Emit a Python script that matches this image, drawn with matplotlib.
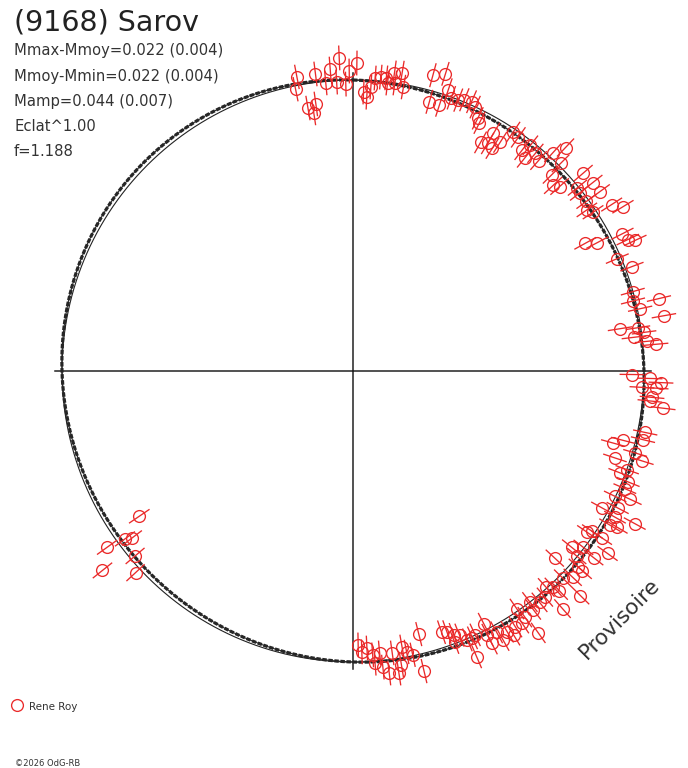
import numpy as np
import matplotlib
matplotlib.use('Agg')
import matplotlib.pyplot as plt
from matplotlib.lines import Line2D

plt.rcParams['font.family'] = ['DejaVu Sans']

# ── Labels ───────────────────────────────────────────────────────────────────
TITLE = '(9168) Sarov'
STATS = [
    'Mmax-Mmoy=0.022 (0.004)',
    'Mmoy-Mmin=0.022 (0.004)',
    'Mamp=0.044 (0.007)',
    'Eclat^1.00',
    'f=1.188',
]
OBSERVER = 'Rene Roy'
STAMP = 'Provisoire'
COPYRIGHT = '\u00a92026 OdG-RB'

# ── Data: rotational phase (0 at top, clockwise) and magnitude offset ────────
PHASE = [
    0.970, 0.968, 0.980, 0.973, 0.978, 0.976, 0.985, 0.988, 0.993, 0.991,
    0.996, 0.998, 0.002, 0.006, 0.008, 0.010, 0.012, 0.015, 0.018, 0.019,
    0.022, 0.026, 0.023, 0.028, 0.042, 0.048, 0.052, 0.044, 0.050, 0.055,
    0.059, 0.062, 0.066, 0.069, 0.073, 0.075, 0.085, 0.091, 0.081, 0.089,
    0.085, 0.094, 0.098, 0.106, 0.104, 0.108, 0.111, 0.115, 0.118, 0.121,
    0.125, 0.126, 0.131, 0.134, 0.137, 0.144, 0.141, 0.144, 0.150, 0.150,
    0.154, 0.157, 0.159, 0.163, 0.170, 0.173, 0.175, 0.179, 0.181, 0.186,
    0.193, 0.206, 0.211, 0.216, 0.213, 0.222, 0.225, 0.226, 0.231, 0.229,
    0.234, 0.236, 0.252, 0.254, 0.256, 0.259, 0.259, 0.264, 0.269, 0.266,
    0.283, 0.293, 0.290, 0.287, 0.295, 0.301, 0.298, 0.308, 0.305, 0.311,
    0.315, 0.321, 0.319, 0.326, 0.330, 0.331, 0.336, 0.329, 0.335, 0.346,
    0.344, 0.344, 0.358, 0.354, 0.349, 0.355, 0.360, 0.369, 0.364, 0.364,
    0.370, 0.374, 0.381, 0.380, 0.384, 0.374, 0.388, 0.392, 0.396, 0.404,
    0.397, 0.385, 0.403, 0.406, 0.402, 0.410, 0.415, 0.413, 0.420, 0.419,
    0.425, 0.425, 0.424, 0.431, 0.433, 0.436, 0.439, 0.442, 0.445, 0.448,
    0.435, 0.443, 0.461, 0.463, 0.467, 0.472, 0.470, 0.478, 0.485, 0.489,
    0.492, 0.497, 0.495, 0.488, 0.484, 0.481, 0.476, 0.474,
    0.655, 0.647, 0.649, 0.651, 0.638, 0.643, 0.631,
]
DMAG = [
    0.042, -0.017, 0.042, -0.121, -0.107, -0.150, -0.008, 0.059, 0.112, -0.008,
    -0.020, 0.045, 0.085, -0.059, -0.084, -0.032, 0.014, 0.021, 0.020, -0.005,
    0.050, 0.055, 0.000, -0.013, 0.077, 0.101, 0.028, -0.056, -0.056, -0.003,
    -0.002, 0.011, 0.016, -0.001, -0.046, -0.062, -0.075, -0.095, -0.146, -0.141,
    -0.133, -0.017, -0.024, -0.020, -0.064, -0.086, -0.035, -0.052, 0.024, 0.087,
    0.013, -0.059, -0.090, -0.070, 0.063, 0.069, -0.006, -0.013, 0.070, -0.012,
    -0.035, -0.016, 0.083, 0.125, -0.130, -0.075, 0.057, 0.068, 0.100, -0.019,
    0.034, -0.001, -0.012, 0.014, 0.117, 0.124, -0.103, -0.014, -0.040, 0.013,
    0.023, 0.066, -0.060, 0.031, 0.086, -0.008, 0.063, 0.046, 0.107, 0.037,
    0.038, -0.106, -0.061, 0.035, 0.014, -0.075, 0.057, -0.026, 0.002, 0.028,
    0.026, -0.002, 0.073, 0.035, -0.034, 0.045, 0.043, 0.147, 0.078, -0.032,
    -0.014, 0.042, -0.050, -0.004, 0.111, 0.067, -0.003, -0.079, 0.037, 0.066,
    0.052, 0.020, 0.017, 0.052, -0.004, 0.143, 0.028, 0.031, 0.000, -0.010,
    0.041, 0.129, 0.046, 0.062, 0.149, 0.060, 0.060, 0.089, 0.036, 0.085,
    0.073, 0.026, -0.031, -0.001, 0.007, 0.006, -0.031, -0.044, -0.068, -0.076,
    0.102, -0.007, -0.099, 0.087, -0.005, -0.054, -0.025, -0.032, -0.039, -0.032,
    -0.068, -0.085, -0.050, 0.010, 0.033, 0.066, 0.073, 0.035,
    -0.163, -0.070, -0.039, 0.058, -0.026, 0.146, 0.028,
]
ERR = 0.062  # magnitude error, drawn as radial bar

# Fourier fit (2nd harmonic only) and layout of the polar plot
FIT_HALF_AMP = 0.022
FIT_PHASE_MAX = 0.375
R_MEAN = 1.455      # radius of mean-magnitude circle
R_MAX = 1.70
AXIS_LEN = 1.49

RED = '#ea2a2a'
INK = '#222222'

W, H = 688, 768
CX, CY, HALF = 353, 371, 340   # pixel centre and half-size of polar box


def fpos(x, y):
    return x / W, 1 - y / H


def main():
    fig = plt.figure(figsize=(W / 100, H / 100), dpi=100)
    fig.patch.set_facecolor('white')
    ax = fig.add_axes([(CX - HALF) / W, (H - CY - HALF) / H,
                       2 * HALF / W, 2 * HALF / H], projection='polar')
    ax.set_theta_zero_location('N')
    ax.set_theta_direction(-1)
    ax.set_ylim(0, R_MAX)
    ax.grid(False)
    ax.set_xticks([])
    ax.set_yticks([])
    ax.spines['polar'].set_visible(False)
    ax.patch.set_alpha(0)

    # cross through the centre
    for t in (0, np.pi / 2, np.pi, 1.5 * np.pi):
        ax.plot([t, t], [0, AXIS_LEN], color=INK, lw=1.1, zorder=1)

    # mean circle and fitted light curve
    ph = np.linspace(0, 1, 1441)
    th = 2 * np.pi * ph
    ax.plot(th, np.full_like(th, R_MEAN), color=INK, lw=0.8, zorder=2)
    r_fit = R_MEAN + FIT_HALF_AMP * np.cos(4 * np.pi * (ph - FIT_PHASE_MAX))
    ax.plot(th, r_fit, color='#262626', lw=2.3, ls=(0, (1.4, 0.5)), zorder=2)
    ax.plot(th, r_fit, color='#262626', lw=0.8, zorder=2)

    # measurements
    theta = 2 * np.pi * np.asarray(PHASE)
    r = R_MEAN + np.asarray(DMAG)
    ax.vlines(theta, r - ERR, r + ERR, colors=RED, lw=0.95, zorder=3)
    ax.plot(theta, r, ls='none', marker='o', ms=8.5, mfc='none',
            mec=RED, mew=0.95, zorder=4)

    # ── Texts ───────────────────────────────────────────────────────────────
    fig.text(*fpos(14, 31), TITLE, fontsize=20.5, color=INK, va='baseline')
    for i, s in enumerate(STATS):
        fig.text(*fpos(14, 55.5 + 25.2 * i), s, fontsize=10.6,
                 color='#333333', va='baseline')

    fig.text(*fpos(620, 619), STAMP, fontsize=15.5, color='#333333',
             rotation=45, rotation_mode='anchor', ha='center', va='center')

    fig.add_artist(Line2D([17 / W], [1 - 705 / H], transform=fig.transFigure,
                          ls='none', marker='o', ms=8.5, mfc='none',
                          mec=RED, mew=0.95))
    fig.text(*fpos(29, 710), OBSERVER, fontsize=7.5, color='#333333',
             va='baseline')
    fig.text(*fpos(15, 766), COPYRIGHT, fontsize=6, color='#333333',
             va='baseline')

    fig.savefig('out.png', dpi=100, facecolor='white')
    plt.close(fig)


if __name__ == '__main__':
    main()
